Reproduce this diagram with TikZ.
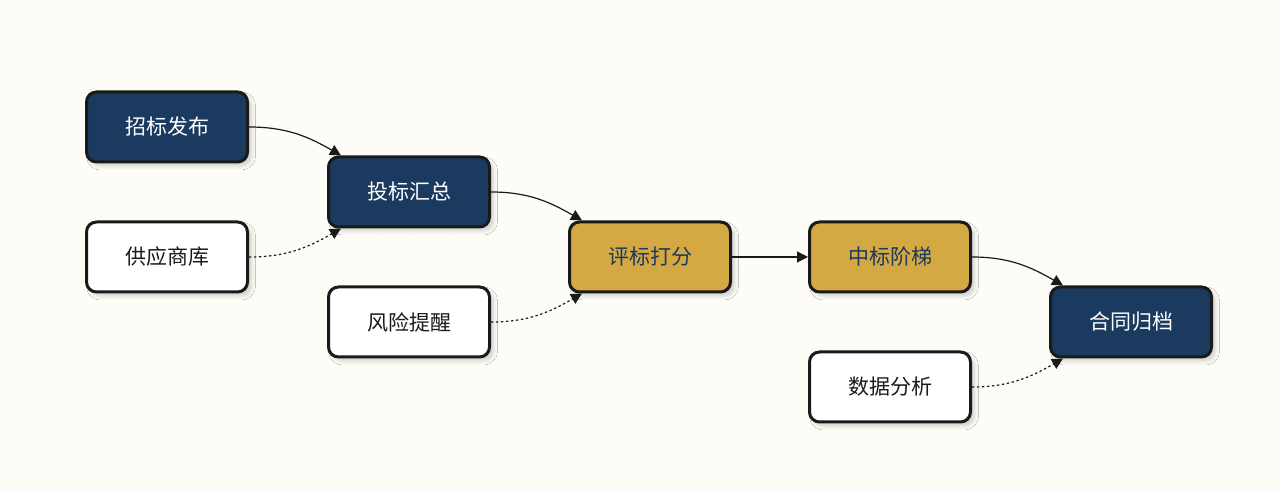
\documentclass[tikz,border=0pt]{standalone}
\usepackage{fontspec}
\newfontfamily\cjk{Noto Sans CJK SC}
\usetikzlibrary{arrows.meta,shadows.blur,calc}
\definecolor{bgc}{HTML}{FDFCF7}
\definecolor{navy}{HTML}{1B3A5F}
\definecolor{gold}{HTML}{D4A843}
\definecolor{ink}{HTML}{1A1A1A}
\definecolor{dotc}{HTML}{ECEAE2}
\tikzset{
  box/.style={draw=ink, line width=1.5pt, rounded corners=5pt, minimum width=80.5pt, minimum height=35pt,
    font=\cjk\fontsize{10.5pt}{12pt}\selectfont, inner sep=0pt,
    blur shadow={shadow xshift=2pt, shadow yshift=-2pt, shadow blur radius=2pt, shadow opacity=18}},
  navybox/.style={box, fill=navy, text=white},
  goldbox/.style={box, fill=gold, text=navy},
  whitebox/.style={box, fill=white, text=ink},
  flow/.style={draw=ink, line width=0.6pt, -{Triangle[length=5.5pt,width=5.5pt]}},
  aux/.style={flow, dash pattern=on 1.2pt off 1.3pt},
}
\begin{document}
\begin{tikzpicture}[x=0.5pt,y=-0.5pt]
\fill[bgc] (0,0) rectangle (1280,490);
\useasboundingbox (0,0) rectangle (1280,490);
\foreach \i in {0,...,35} {\foreach \j in {0,...,13} {\fill[dotc] (18+36*\i,18+36*\j) circle (0.6);}}
\node[navybox] (a) at (167,127) {招标发布};
\node[whitebox] (s) at (167,257) {供应商库};
\node[navybox] (b) at (409,192) {投标汇总};
\node[whitebox] (r) at (409,322) {风险提醒};
\node[goldbox] (c) at (650,257) {评标打分};
\node[goldbox] (d) at (890,257) {中标阶梯};
\node[navybox] (e) at (1131,322) {合同归档};
\node[whitebox] (f) at (890,387) {数据分析};
\draw[flow] (a.east) to[out=0,in=150] ($(b.north west)+(14,0)$);
\draw[aux] (s.east) to[out=0,in=-150] ($(b.south west)+(14,0)$);
\draw[flow] (b.east) to[out=0,in=150] ($(c.north west)+(14,0)$);
\draw[aux] (r.east) to[out=0,in=-150] ($(c.south west)+(14,0)$);
\draw[flow] (c.east) -- (d.west);
\draw[flow] (d.east) to[out=0,in=150] ($(e.north west)+(14,0)$);
\draw[aux] (f.east) to[out=0,in=-150] ($(e.south west)+(14,0)$);
\end{tikzpicture}
\end{document}
